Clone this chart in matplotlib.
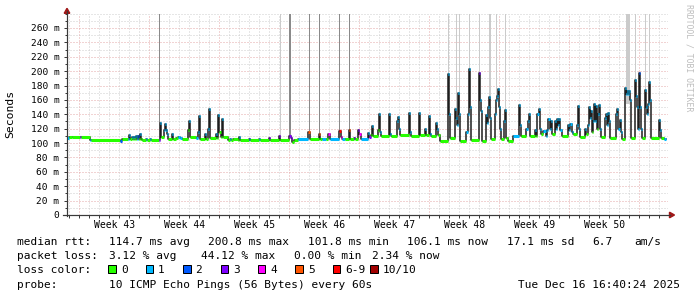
import matplotlib
matplotlib.use("Agg")
import matplotlib.pyplot as plt
from matplotlib.collections import LineCollection
from matplotlib.patches import Polygon, Rectangle
from matplotlib.lines import Line2D

# ---------------- data (time in days from left edge of the graph) ----------------
t_days = [
    0.0, 0.2, 0.5, 1.3, 1.4, 2.3, 2.4, 5.3, 5.5, 6.1, 6.2, 6.3, 6.5, 6.6, 6.7, 6.8, 6.9, 7.0, 7.1, 7.2,
    7.3, 7.4, 7.5, 7.9, 8.0, 8.3, 8.4, 9.2, 9.3, 9.4, 9.7, 9.8, 9.9, 10.0, 10.1, 10.5, 10.6, 10.9, 11.1, 11.3,
    11.5, 12.1, 12.2, 12.3, 12.9, 13.1, 13.2, 13.3, 13.8, 13.9, 14.1, 14.2, 14.3, 14.9, 15.0, 15.1, 15.2, 15.4, 15.5, 15.6,
    16.1, 16.3, 16.4, 16.6, 17.1, 17.2, 17.3, 18.2, 18.3, 19.2, 19.3, 20.2, 20.3, 21.2, 21.3, 22.2, 22.4, 22.5, 22.7, 23.1,
    24.1, 24.3, 25.2, 25.3, 25.5, 25.9, 26.1, 26.3, 27.2, 27.4, 27.5, 27.8, 28.2, 28.3, 28.7, 28.8, 29.1, 29.2, 29.4, 30.1,
    30.2, 30.4, 30.5, 30.6, 31.1, 31.2, 31.3, 31.4, 32.2, 32.3, 32.4, 33.0, 33.1, 33.2, 33.3, 34.2, 34.3, 34.4, 35.2, 35.3,
    35.8, 35.9, 36.2, 36.3, 36.4, 36.9, 37.0, 37.1, 37.3, 38.1, 38.2, 38.3, 38.8, 38.9, 39.0, 39.1, 39.2, 39.3, 39.9, 40.1,
    40.2, 40.3, 40.4, 41.2, 41.3, 41.4, 41.5, 41.9, 42.0, 42.1, 42.2, 42.3, 42.4, 42.8, 42.9, 43.0, 43.1, 43.2, 43.3, 43.4,
    43.7, 43.8, 43.9, 44.1, 44.6, 45.2, 45.3, 45.4, 45.9, 46.1, 46.2, 46.3, 46.8, 46.9, 47.0, 47.2, 47.3, 47.4, 47.6, 47.9,
    48.0, 48.1, 48.3, 48.4, 48.5, 48.8, 48.9, 49.0, 49.1, 49.2, 49.3, 49.5, 50.1, 50.2, 50.3, 50.5, 50.6, 51.0, 51.1, 51.2,
    51.3, 51.8, 51.9, 52.1, 52.2, 52.3, 52.4, 52.5, 52.6, 52.7, 52.8, 52.9, 53.0, 53.1, 53.2, 53.3, 53.4, 53.8, 53.9, 54.0,
    54.1, 54.2, 54.3, 54.9, 55.0, 55.1, 55.3, 55.4, 55.5, 55.8, 55.9, 56.0, 56.1, 56.2, 56.3, 56.4, 56.8, 56.9, 57.0, 57.1,
    57.2, 57.3, 57.4, 57.5, 57.8, 57.9, 58.0, 58.1, 58.2, 58.3, 58.4, 59.2, 59.3, 59.4, 59.7,
]
median_ms = [
    107, 108, 109, 108, 108, 104, 104, 103, 105, 106, 111, 106, 109, 105, 108, 105, 110, 106, 110, 105,
    112, 106, 104, 106, 104, 105, 104, 104, 128, 108, 118, 126, 118, 112, 106, 113, 106, 107, 109, 107,
    106, 118, 131, 108, 107, 115, 138, 106, 112, 106, 120, 147, 107, 113, 107, 139, 115, 108, 134, 108,
    104, 106, 104, 106, 104, 108, 104, 106, 104, 106, 104, 107, 104, 110, 104, 110, 107, 102, 104, 106,
    116, 106, 112, 106, 106, 106, 113, 106, 117, 108, 106, 106, 118, 106, 107, 106, 118, 112, 106, 114,
    109, 111, 124, 110, 118, 140, 115, 110, 140, 112, 110, 130, 136, 120, 111, 142, 115, 110, 142, 111,
    120, 111, 138, 112, 110, 128, 120, 111, 103, 196, 140, 107, 148, 135, 125, 169, 140, 103, 115, 141,
    203, 150, 104, 197, 160, 145, 103, 139, 128, 150, 164, 135, 106, 140, 160, 165, 175, 150, 120, 106,
    130, 146, 107, 103, 110, 153, 125, 110, 119, 130, 141, 110, 118, 110, 141, 148, 120, 112, 117, 110,
    118, 133, 120, 130, 112, 130, 120, 134, 125, 133, 118, 110, 125, 118, 127, 115, 112, 125, 152, 120,
    108, 120, 112, 125, 150, 135, 145, 115, 130, 155, 130, 151, 120, 140, 153, 120, 108, 135, 140, 125,
    142, 130, 107, 140, 148, 120, 132, 115, 105, 176, 168, 172, 168, 172, 160, 107, 188, 165, 150, 120,
    197, 150, 120, 107, 174, 150, 140, 155, 185, 160, 107, 132, 118, 107, 106,
]
loss_pings = [
    1, 0, 0, 3, 0, 1, 0, 2, 0, 1, 1, 0, 1, 0, 1, 0, 1, 1, 2, 0,
    1, 0, 0, 1, 0, 1, 0, 3, 1, 0, 1, 1, 1, 1, 0, 1, 0, 0, 1, 1,
    0, 0, 1, 0, 1, 1, 1, 0, 1, 0, 1, 1, 0, 1, 0, 1, 0, 0, 1, 0,
    0, 1, 0, 0, 0, 1, 0, 2, 0, 1, 0, 3, 0, 3, 0, 3, 3, 0, 0, 1,
    5, 0, 5, 0, 1, 0, 4, 1, 6, 4, 1, 0, 5, 0, 3, 0, 3, 4, 1, 1,
    3, 0, 1, 0, 0, 1, 1, 0, 1, 1, 0, 1, 1, 1, 0, 1, 1, 0, 1, 0,
    1, 0, 1, 1, 0, 1, 1, 0, 0, 1, 1, 0, 1, 1, 1, 1, 1, 0, 1, 1,
    1, 1, 0, 3, 1, 1, 0, 1, 1, 1, 1, 1, 0, 1, 1, 1, 1, 1, 1, 0,
    1, 1, 0, 0, 1, 1, 1, 0, 1, 1, 1, 0, 1, 0, 1, 1, 1, 0, 1, 1,
    1, 1, 1, 1, 0, 1, 1, 1, 1, 1, 1, 0, 1, 1, 1, 1, 0, 1, 1, 1,
    0, 1, 0, 1, 1, 1, 1, 0, 1, 1, 1, 1, 0, 1, 1, 1, 0, 1, 1, 1,
    1, 1, 0, 1, 1, 1, 1, 1, 0, 1, 1, 1, 1, 1, 1, 0, 1, 1, 1, 1,
    2, 1, 1, 0, 1, 1, 1, 1, 1, 1, 0, 1, 1, 0, 1,
]
t_end = 59.9

# smoke: tall ping spread spikes (start day, number of samples, lowest ms, shade)
smoke_days = [9.2, 21.3, 22.2, 24.2, 25.2, 27.2, 28.2, 38.1, 38.9, 39.2, 40.2, 41.2, 42.2, 42.9, 43.8, 55.9, 56.8, 57.8, 58.2]
smoke_samples = [1, 1, 2, 1, 1, 1, 1, 1, 1, 1, 1, 1, 2, 1, 1, 4, 1, 1, 1]
smoke_floor_ms = [128, 104, 108, 116, 112, 117, 118, 190, 148, 150, 200, 195, 160, 165, 146, 155, 165, 150, 185]
smoke_dark = [1, 0, 1, 1, 1, 1, 1, 0, 0, 0, 0, 0, 0, 0, 0, 0, 0, 0, 0]

first_week_start = 1.23
week_labels = ["Week 43", "Week 44", "Week 45", "Week 46", "Week 47", "Week 48", "Week 49", "Week 50"]
y_ticks = list(range(0, 261, 20))
y_tick_labels = ["0"] + [f"{v} m" for v in y_ticks[1:]]

loss_labels = ["0", "1", "2", "3", "4", "5", "6-9", "10/10"]
loss_colors = ["#26ff00", "#00b8ff", "#0059ff", "#7e00ff", "#ff00ff", "#ff5500", "#ff0000", "#a10000"]

stats_rtt = [("median rtt:", 0), ("114.7 ms avg", 13), ("200.8 ms max", 27), ("101.8 ms min", 41),
             ("106.1 ms now", 55), ("17.1 ms sd", 69), ("6.7", 81), ("am/s", 87)]
stats_loss = [("packet loss:", 0), ("3.12 % avg", 13), ("44.12 % max", 26), ("0.00 % min", 39), ("2.34 % now", 50)]
probe_text = "10 ICMP Echo Pings (56 Bytes) every 60s"
date_text = "Tue Dec 16 16:40:24 2025"


def loss_color(n):
    if n >= 10:
        return loss_colors[7]
    if n >= 6:
        return loss_colors[6]
    return loss_colors[n]


# ---------------- figure ----------------
W, H = 697, 297
fig = plt.figure(figsize=(W / 100, H / 100), dpi=100)
fig.patch.set_facecolor("white")


def fx(p):
    return p / W


def fy(p):
    return 1 - p / H


AX_L, AX_R, AX_B, AX_T = 67, 668, 215, 13.6
ax = fig.add_axes([fx(AX_L), fy(AX_B), (AX_R - AX_L) / W, (AX_B - AX_T) / H])
ax.set_xlim(0, 60.1)
ax.set_ylim(0, 280)
ax.set_facecolor("white")
for s in ax.spines.values():
    s.set_visible(False)

MONO = "DejaVu Sans Mono"
PX = 0.72
DOTS = (0, (1, 2))
GRID_MINOR = "#cfcfcf"
GRID_MAJOR = "#e4a9a9"
AXIS_C = "#3a3a3a"
ARROW_C = "#a01818"

# grid
for v in range(10, 281, 10):
    major = (v % 20 == 0) and v <= 260
    ax.axhline(v, color=GRID_MAJOR if major else GRID_MINOR, lw=PX, ls=DOTS, zorder=0)
day = first_week_start - 1
day_lines = []
while day < 60.1:
    day_lines.append(day)
    day += 1
for d in day_lines:
    is_week = abs(((d - first_week_start) / 7) - round((d - first_week_start) / 7)) < 1e-6
    ax.axvline(d, color=GRID_MAJOR if is_week else GRID_MINOR, lw=PX, ls=DOTS, zorder=0)

# smoke spikes
for s0, n, fl, dk in zip(smoke_days, smoke_samples, smoke_floor_ms, smoke_dark):
    ax.bar(s0, 280 - fl, width=n * 0.1, bottom=fl, align="edge",
           color="#8a8a8a" if dk else "#cbcbcb", linewidth=0, zorder=1)

# median line (black connectors)
ts = t_days + [t_end]
vs = median_ms + [median_ms[-1]]
ax.step(ts, vs, where="post", color="#1e1e1e", lw=1.1, zorder=2)

# loss-coloured median dashes
segs = [[(ts[i], vs[i]), (ts[i + 1], vs[i])] for i in range(len(t_days))]
cols = [loss_color(n) for n in loss_pings]
ax.add_collection(LineCollection(segs, colors=cols, linewidths=2.2, capstyle="butt", zorder=3))

# ticks
ax.set_yticks(y_ticks, y_tick_labels)
ax.set_yticks([v for v in range(10, 281, 10) if v not in y_ticks], minor=True)
ax.tick_params(axis="y", which="major", direction="out", length=2.2, width=PX, color=AXIS_C,
               pad=3.2, labelsize=6.8, labelfontfamily=MONO)
ax.tick_params(axis="y", which="minor", direction="out", length=1.5, width=PX, color=AXIS_C)
week_centers = [first_week_start + 3.5 + 7 * k for k in range(len(week_labels))]
ax.set_xticks(week_centers, week_labels)
ax.set_xticks(day_lines, minor=True)
ax.tick_params(axis="x", which="major", length=0, pad=3.6, labelsize=7, labelfontfamily=MONO)
ax.tick_params(axis="x", which="minor", direction="out", length=2.0, width=PX, color=AXIS_C)

# axes with arrows
fig.add_artist(Line2D([fx(AX_L), fx(AX_L)], [fy(AX_B + 1), fy(11)], color=AXIS_C, lw=PX * 1.2))
fig.add_artist(Line2D([fx(63), fx(670)], [fy(AX_B), fy(AX_B)], color=AXIS_C, lw=PX * 1.2))
fig.add_artist(Polygon([(fx(67), fy(8.3)), (fx(64.2), fy(13.3)), (fx(69.8), fy(13.3))],
                       closed=True, color=ARROW_C, transform=fig.transFigure))
fig.add_artist(Polygon([(fx(674.5), fy(215)), (fx(669.5), fy(212.2)), (fx(669.5), fy(217.8))],
                       closed=True, color=ARROW_C, transform=fig.transFigure))

# labels
fig.text(fx(10.5), fy(114), "Seconds", rotation=90, ha="center", va="center", fontsize=8.2, family=MONO)
fig.text(fx(689), fy(4.5), "RRDTOOL / TOBI OETIKER", rotation=-90, ha="center", va="top",
         fontsize=5.9, family=MONO, color="#bdbdbd")

X0, PITCH, FS = 16.7, 7.1, 8.0
BASE = [245.0, 259.3, 273.3, 287.7]
for s, idx in stats_rtt:
    fig.text(fx(X0 + idx * PITCH), fy(BASE[0]), s, va="baseline", fontsize=FS, family=MONO)
for s, idx in stats_loss:
    fig.text(fx(X0 + idx * PITCH), fy(BASE[1]), s, va="baseline", fontsize=FS, family=MONO)
fig.text(fx(X0), fy(BASE[2]), "loss color:", va="baseline", fontsize=FS, family=MONO)
for k, (lab, c) in enumerate(zip(loss_labels, loss_colors)):
    x = 108.3 + 37.4 * k
    fig.add_artist(Rectangle((fx(x), fy(272.8)), 7.4 / W, 7.6 / H, transform=fig.transFigure,
                             facecolor=c, edgecolor="black", lw=PX))
    fig.text(fx(x + 12.5), fy(BASE[2]), lab, va="baseline", fontsize=FS, family=MONO)
fig.text(fx(X0), fy(BASE[3]), "probe:", va="baseline", fontsize=FS, family=MONO)
fig.text(fx(X0 + 13 * PITCH), fy(BASE[3]), probe_text, va="baseline", fontsize=FS, family=MONO)
fig.text(fx(680.5), fy(BASE[3]), date_text, va="baseline", ha="right", fontsize=FS, family=MONO)

fig.savefig("out.png", dpi=100, facecolor="white")
